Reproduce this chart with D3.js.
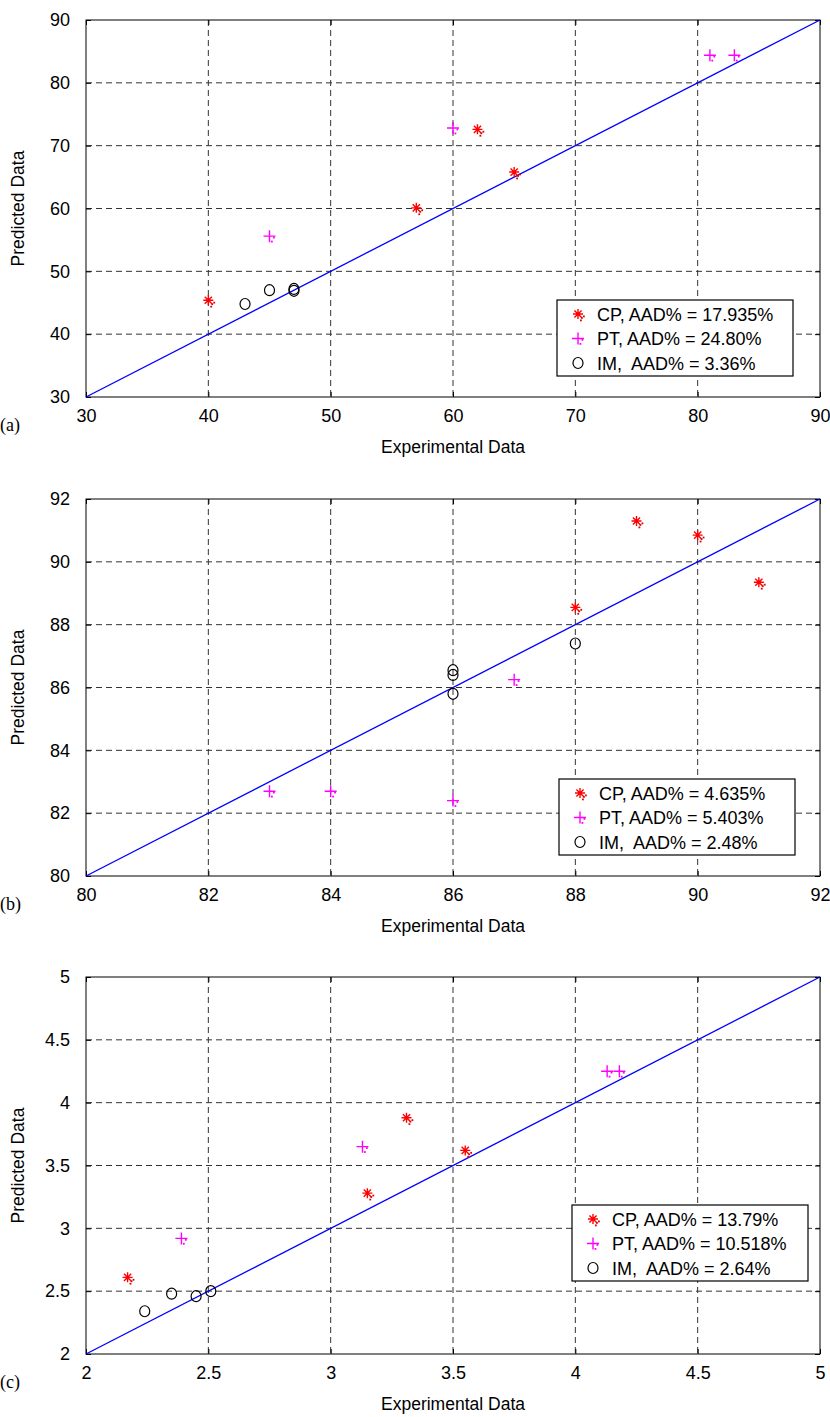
<!DOCTYPE html>
<html>
<head>
<meta charset="utf-8">
<script src="https://cdn.jsdelivr.net/npm/d3@7"></script>
<style>
  body { margin: 0; background: #fff; }
  svg { display: block; }
  text { font-family: "Liberation Sans", Arial, Helvetica, sans-serif; fill: #000; }
  .tag { font-family: "Liberation Serif", "Times New Roman", serif; }
</style>
</head>
<body>
<div id="chart"></div>
<script>
// ---- data ----
const panelTags = ['(a)', '(b)', '(c)'];

const xDomainA = [30, 90], ticksA = [30, 40, 50, 60, 70, 80, 90];
const cpA = [[40, 45.4], [57, 60.1], [62, 72.6], [65, 65.8]];
const ptA = [[45, 55.6], [60, 72.8], [81, 84.4], [83, 84.4]];
const imA = [[43, 44.8], [45, 47.0], [47, 47.2], [47, 46.9]];
const legendA = ['CP, AAD% = 17.935%', 'PT, AAD% = 24.80%', 'IM,  AAD% = 3.36%'];

const xDomainB = [80, 92], ticksB = [80, 82, 84, 86, 88, 90, 92];
const cpB = [[88, 88.55], [89, 91.3], [90, 90.85], [91, 89.35]];
const ptB = [[83, 82.7], [84, 82.7], [86, 82.4], [87, 86.25]];
const imB = [[86, 86.55], [86, 86.4], [86, 85.8], [88, 87.4]];
const legendB = ['CP, AAD% = 4.635%', 'PT, AAD% = 5.403%', 'IM,  AAD% = 2.48%'];

const xDomainC = [2, 5], ticksC = [2, 2.5, 3, 3.5, 4, 4.5, 5];
const cpC = [[2.17, 2.61], [3.15, 3.28], [3.31, 3.88], [3.55, 3.62]];
const ptC = [[2.39, 2.92], [3.13, 3.65], [4.13, 4.25], [4.18, 4.25]];
const imC = [[2.24, 2.34], [2.35, 2.48], [2.45, 2.46], [2.51, 2.50]];
const legendC = ['CP, AAD% = 13.79%', 'PT, AAD% = 10.518%', 'IM,  AAD% = 2.64%'];

const panels = [
  {domain: xDomainA, ticks: ticksA, cp: cpA, pt: ptA, im: imA, legend: legendA, top: 20, legTop: 280, legRight: 793},
  {domain: xDomainB, ticks: ticksB, cp: cpB, pt: ptB, im: imB, legend: legendB, top: 499, legTop: 280, legRight: 795},
  {domain: xDomainC, ticks: ticksC, cp: cpC, pt: ptC, im: imC, legend: legendC, top: 977, legTop: 228, legRight: 808}
];

// ---- layout ----
const W = 830, H = 1417;
const left = 86, right = 820, plotH = 377;

const svg = d3.select('#chart').append('svg')
  .attr('width', W).attr('height', H);

// marker painters
function drawCP(g, x, y) {
  const r = 5, d = 3.6;
  g.append('path')
    .attr('d', `M${x - r},${y}H${x + r}M${x},${y - r}V${y + r}M${x - d},${y - d}L${x + d},${y + d}M${x - d},${y + d}L${x + d},${y - d}`)
    .attr('stroke', '#ff0000').attr('stroke-width', 1.4).attr('fill', 'none');
  [[3, 3], [5, 1.5], [2, 5.5]].forEach(p => {
    g.append('rect').attr('x', x + p[0]).attr('y', y + p[1])
      .attr('width', 1.8).attr('height', 1.8).attr('fill', '#e00000');
  });
}
function drawPT(g, x, y) {
  const r = 6;
  g.append('path')
    .attr('d', `M${x - r},${y}H${x + r}M${x},${y - r}V${y + r}`)
    .attr('stroke', '#ff00ff').attr('stroke-width', 1.4).attr('fill', 'none');
  [[3.5, 0.5], [1.5, 4.5]].forEach(p => {
    g.append('rect').attr('x', x + p[0]).attr('y', y + p[1])
      .attr('width', 1.8).attr('height', 1.8).attr('fill', '#ff00ff');
  });
}
function drawIM(g, x, y) {
  g.append('ellipse').attr('cx', x).attr('cy', y)
    .attr('rx', 5).attr('ry', 5.5)
    .attr('fill', 'none').attr('stroke', '#000').attr('stroke-width', 1.2);
}

panels.forEach((p, i) => {
  const top = p.top, bottom = top + plotH;
  const x = d3.scaleLinear().domain(p.domain).range([left, right]);
  const y = d3.scaleLinear().domain(p.domain).range([bottom, top]);
  const g = svg.append('g');

  // dashed grid
  g.append('g').selectAll('line.gx').data(p.ticks.slice(1, -1)).join('line')
    .attr('x1', d => x(d)).attr('x2', d => x(d))
    .attr('y1', top).attr('y2', bottom)
    .attr('stroke', '#333').attr('stroke-width', 1).attr('stroke-dasharray', '6,4');
  g.append('g').selectAll('line.gy').data(p.ticks.slice(1, -1)).join('line')
    .attr('x1', left).attr('x2', right)
    .attr('y1', d => y(d)).attr('y2', d => y(d))
    .attr('stroke', '#333').attr('stroke-width', 1).attr('stroke-dasharray', '6,4');

  // axes with inward ticks
  const fmt = d => String(d);
  g.append('g').attr('transform', `translate(0,${bottom})`)
    .call(d3.axisBottom(x).tickValues(p.ticks).tickFormat(fmt).tickSizeInner(-5).tickSizeOuter(0).tickPadding(12));
  g.append('g').attr('transform', `translate(${left},0)`)
    .call(d3.axisLeft(y).tickValues(p.ticks).tickFormat(fmt).tickSizeInner(-5).tickSizeOuter(0).tickPadding(16));
  g.append('g').attr('transform', `translate(0,${top})`)
    .call(d3.axisTop(x).tickValues(p.ticks).tickFormat('').tickSizeInner(-5).tickSizeOuter(0));
  g.append('g').attr('transform', `translate(${right},0)`)
    .call(d3.axisRight(y).tickValues(p.ticks).tickFormat('').tickSizeInner(-5).tickSizeOuter(0));
  g.selectAll('.domain').remove();
  g.selectAll('.tick text').style('font-size', '18px')
    .style('font-family', '"Liberation Sans", Arial, Helvetica, sans-serif');
  g.selectAll('.tick line').attr('stroke', '#000');

  // frame
  g.append('rect').attr('x', left).attr('y', top)
    .attr('width', right - left).attr('height', plotH)
    .attr('fill', 'none').attr('stroke', '#000').attr('stroke-width', 1);

  // y = x line
  g.append('line')
    .attr('x1', x(p.domain[0])).attr('y1', y(p.domain[0]))
    .attr('x2', x(p.domain[1])).attr('y2', y(p.domain[1]))
    .attr('stroke', '#0000ff').attr('stroke-width', 1.3);

  // points
  p.cp.forEach(d => drawCP(g, x(d[0]), y(d[1])));
  p.pt.forEach(d => drawPT(g, x(d[0]), y(d[1])));
  p.im.forEach(d => drawIM(g, x(d[0]), y(d[1])));

  // legend
  const lw = 236, lh = 76;
  const lx = p.legRight - lw, ly = top + p.legTop;
  const lg = g.append('g');
  lg.append('rect').attr('x', lx).attr('y', ly).attr('width', lw).attr('height', lh)
    .attr('fill', '#fff').attr('stroke', '#000').attr('stroke-width', 1.2);
  const painters = [drawCP, drawPT, drawIM];
  p.legend.forEach((t, k) => {
    const cy = ly + 14 + k * 24.5;
    painters[k](lg, lx + 21, cy);
    lg.append('text').attr('x', lx + 40).attr('y', cy + 6.5)
      .attr('xml:space', 'preserve').style('white-space', 'pre')
      .style('font-size', '18px').text(t);
  });

  // axis titles
  g.append('text').attr('x', (left + right) / 2).attr('y', bottom + 56)
    .attr('text-anchor', 'middle').style('font-size', '17.5px').text('Experimental Data');
  g.append('text')
    .attr('transform', `translate(24,${(top + bottom) / 2}) rotate(-90)`)
    .attr('text-anchor', 'middle').style('font-size', '17.5px').text('Predicted Data');
  g.append('text').attr('class', 'tag').attr('x', 0).attr('y', bottom + 34)
    .style('font-size', '18px').text(panelTags[i]);
});
</script>
</body>
</html>
